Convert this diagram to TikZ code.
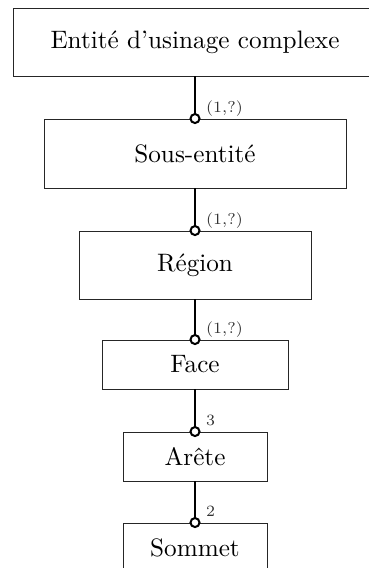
\documentclass[tikz,border=0pt]{standalone}
\begin{document}
\begin{tikzpicture}[x=1pt,y=1pt,
  entbox/.style={draw=black!85, line width=0.9pt, rectangle, inner sep=0pt, text=black},
  link/.style={line width=2.3pt, black},
  ring/.style={circle, draw=black, fill=white, line width=2pt, inner sep=0pt, minimum size=9pt},
  card/.style={anchor=base west, inner sep=0pt, text=black!80}]
\newcommand{\bigtxt}[1]{\scalebox{2.52}{\fontsize{10}{12}\selectfont #1}}
\newcommand{\smalltxt}[1]{\scalebox{2.25}{\fontsize{7}{8}\selectfont #1}}
\useasboundingbox (0,0) rectangle (369,-568);
\node[entbox, minimum width=364pt, minimum height=68pt] (e1) at (195,-42) {\bigtxt{Entité d’usinage complexe}};
\node[entbox, minimum width=302pt, minimum height=69pt] (e2) at (195,-153.5) {\bigtxt{Sous-entité}};
\node[entbox, minimum width=232pt, minimum height=68pt] (e3) at (195,-265) {\bigtxt{Région}};
\node[entbox, minimum width=186pt, minimum height=49pt] (e4) at (195,-364.5) {\bigtxt{Face}};
\node[entbox, minimum width=144pt, minimum height=49pt] (e5) at (195,-456.5) {\bigtxt{Arête}};
\node[entbox, minimum width=144pt, minimum height=49pt] (e6) at (195,-547.5) {\bigtxt{Sommet}};
\foreach \a/\b/\t in {e1/e2/{(1,?)}, e2/e3/{(1,?)}, e3/e4/{(1,?)}, e4/e5/{3}, e5/e6/{2}}{
  \draw[link] (\a.south) -- (\b.north);
  \node[ring] (r\b) at (\b.north) {};
  \node[card] (l\b) at ([shift={(11,6)}]\b.north) {\smalltxt{\t}};
}
\end{tikzpicture}
\end{document}
